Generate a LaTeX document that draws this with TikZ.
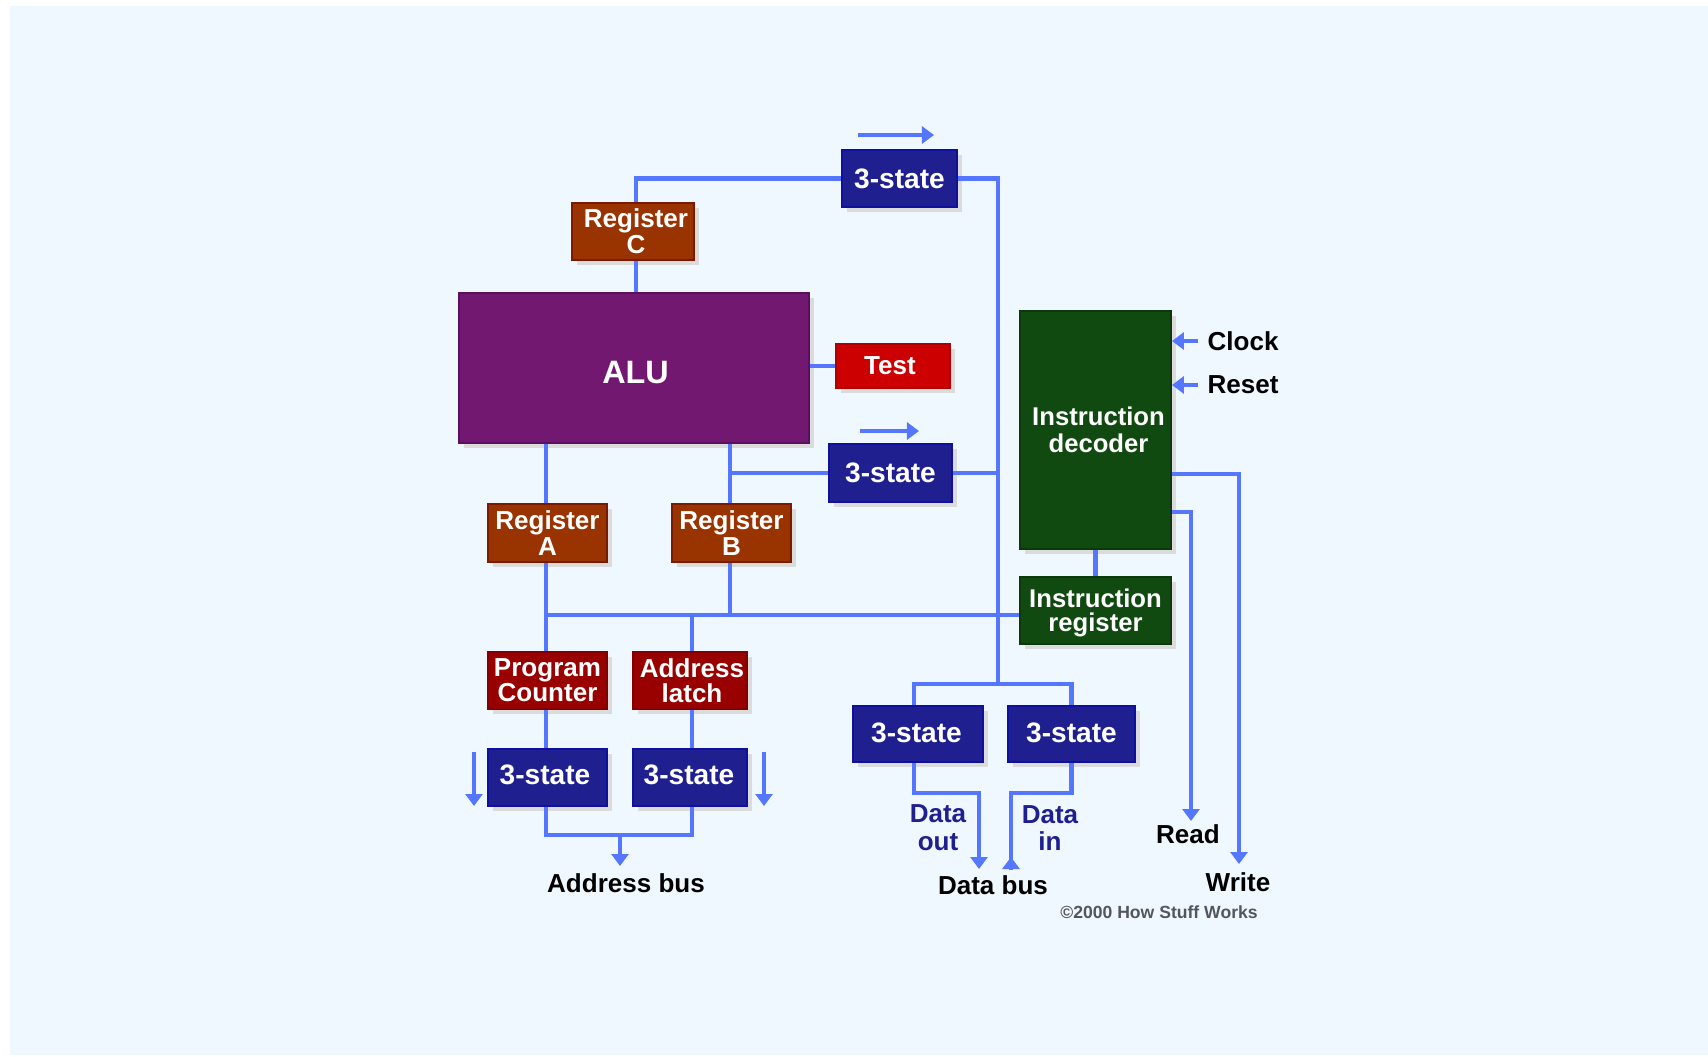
\documentclass[tikz,border=0pt]{standalone}
\usepackage{fontspec}
\setmainfont{Liberation Sans}
\usetikzlibrary{arrows.meta,shadows}
\definecolor{paper}{HTML}{F0F8FF}
\definecolor{wireblue}{HTML}{5577FF}
\definecolor{navy}{HTML}{1F1F8F}
\definecolor{navyline}{HTML}{1010A0}
\definecolor{rust}{HTML}{993300}
\definecolor{rustline}{HTML}{7A1A00}
\definecolor{maroon}{HTML}{990000}
\definecolor{testred}{HTML}{CC0000}
\definecolor{plum}{HTML}{731870}
\definecolor{plumline}{HTML}{5A1060}
\definecolor{leaf}{HTML}{114A11}
\definecolor{leafline}{HTML}{0C380C}
\definecolor{capgray}{HTML}{555560}
\tikzset{
  block/.style={rectangle, draw, line width=0.5pt, inner sep=0pt, align=center, text=white,
    font=\bfseries\fontsize{7.4pt}{7.5pt}\selectfont,
    drop shadow={shadow xshift=.05cm, shadow yshift=-.05cm, fill=black!14, opacity=1}},
  statebox/.style={block, fill=navy, draw=navyline, font=\bfseries\fontsize{8pt}{8pt}\selectfont},
  regbox/.style={block, fill=rust, draw=rustline},
  latchbox/.style={block, fill=maroon, draw=maroon!85!black, font=\bfseries\fontsize{7.4pt}{7.1pt}\selectfont},
  decbox/.style={block, fill=leaf, draw=leafline, font=\bfseries\fontsize{7.3pt}{7.6pt}\selectfont},
  tag/.style={font=\bfseries\fontsize{7.4pt}{7.9pt}\selectfont, align=center, text=black, inner sep=0pt},
  wire/.style={draw=wireblue, line width=1.4pt},
  flow/.style={wire, -{Triangle[width=.17cm,length=.12cm]}},
}
\begin{document}
\begin{tikzpicture}[x=0.01cm,y=-0.01cm]
  \useasboundingbox (0,0) rectangle (1708,1057);
  \fill[paper] (10,6) rectangle (1708,1055);

  % blocks, left part
  \node[block, fill=plum, draw=plumline, minimum width=3.50cm, minimum height=1.50cm, font=\bfseries\fontsize{9.2pt}{9.2pt}\selectfont] (alu) at (634,368) {\raisebox{-.045cm}[\height][\depth]{\hspace*{.03cm}ALU}};
  \node[regbox, minimum width=1.22cm, minimum height=.57cm] (regc) at (633,231.5) {\hspace*{.06cm}Register\\\hspace*{.06cm}C};
  \node[regbox, minimum width=1.19cm, minimum height=.58cm] (rega) at (547.5,533) {Register\\A};
  \node[regbox, minimum width=1.19cm, minimum height=.58cm] (regb) at (731.5,533) {Register\\B};
  \node[latchbox, minimum width=1.19cm, minimum height=.57cm] (pc) at (547.5,680.5) {Program\\Counter};
  \node[latchbox, minimum width=1.14cm, minimum height=.57cm] (latch) at (690,680.5) {\hspace*{.04cm}Address\\\hspace*{.04cm}latch};
  \node[block, fill=testred, draw=testred!85!black, minimum width=1.14cm, minimum height=.44cm] (test) at (893,366) {Test\hspace*{.06cm}};

  % blocks, 3-state
  \node[statebox, minimum width=1.15cm, minimum height=.57cm] (statetop) at (899.5,178.5) {3-state};
  \node[statebox, minimum width=1.23cm, minimum height=.58cm] (statemid) at (890.5,473) {3-state};
  \node[statebox, minimum width=1.19cm, minimum height=.57cm] (statepc) at (547.5,777.5) {\raisebox{.03cm}[\height][\depth]{3-state\hspace*{.05cm}}};
  \node[statebox, minimum width=1.14cm, minimum height=.57cm] (statelatch) at (690,777.5) {\raisebox{.03cm}[\height][\depth]{3-state\hspace*{.02cm}}};
  \node[statebox, minimum width=1.30cm, minimum height=.56cm] (stateout) at (918,734) {\raisebox{.01cm}[\height][\depth]{3-state\hspace*{.03cm}}};
  \node[statebox, minimum width=1.27cm, minimum height=.56cm] (statein) at (1071.5,734) {\raisebox{.01cm}[\height][\depth]{3-state}};

  % blocks, decoder
  \node[decbox, minimum width=1.51cm, minimum height=2.38cm] (decoder) at (1095.5,430) {\hspace*{.06cm}Instruction\\\hspace*{.06cm}decoder};
  \node[decbox, minimum width=1.51cm, minimum height=.67cm, font=\bfseries\fontsize{7.3pt}{6.8pt}\selectfont] (ireg) at (1095.5,610.5) {\rule{0pt}{6.7pt}Instruction\\register};

  % columns and junctions of the wires
  \coordinate (colc) at (636,231);
  \coordinate (cola) at (546,533);
  \coordinate (colb) at (730,533);
  \coordinate (coll) at (692,680);
  \coordinate (coldata) at (998,400);
  \coordinate (colout) at (914,734);
  \coordinate (busy) at (800,615);
  \coordinate (forky) at (800,684);
  \coordinate (joiny) at (800,835);
  \coordinate (outy) at (800,793);

  % wires
  \draw[wire] (statetop.west) -| (regc.north -| colc);
  \draw[wire] (regc.south -| colc) -- (alu.north -| colc);
  \draw[wire] (alu.east |- test.west) -- (test.west);
  \draw[wire] (alu.south -| cola) -- (rega.north -| cola);
  \draw[wire] (alu.south -| colb) -- (regb.north -| colb);
  \draw[wire] (statemid.west) -- (statemid.west -| colb);
  \draw[wire] (statemid.east) -- (statemid.east -| coldata);
  \draw[wire] (statetop.east) -| (forky -| coldata);
  \draw[wire] (stateout.north -| colout) |- (forky -| statein.north) -- (statein.north);
  \draw[wire] (rega.south -| cola) -- (pc.north -| cola);
  \draw[wire] (regb.south -| colb) -- (busy -| colb);
  \draw[wire, line width=1.2pt] (busy -| cola) -- (ireg.west |- busy);
  \draw[wire] (busy -| coll) -- (latch.north -| coll);
  \draw[wire] (pc.south -| cola) -- (statepc.north -| cola);
  \draw[wire] (latch.south -| coll) -- (statelatch.north -| coll);
  \draw[wire] (decoder.south) -- (ireg.north);

  % buses at the bottom
  \coordinate (addr) at (620,866);
  \coordinate (outend) at (979,869);
  \coordinate (inend) at (1011,857);
  \coordinate (inbase) at (1011,870);
  \coordinate (readend) at (1191,821);
  \coordinate (writeend) at (1239,864);
  \draw[wire] (statepc.south -| cola) |- (joiny -| coll) -- (statelatch.south -| coll);
  \draw[flow] (joiny -| addr) -- (addr);
  \draw[flow] (stateout.south -| colout) |- (outy -| outend) -- (outend);
  \draw[wire] (statein.south) |- (outy -| inend) -- (inbase);
  \draw[flow] (inbase) -- (inend);
  \draw[flow] (decoder.east |- 0,512) -| (readend);
  \draw[flow] (decoder.east |- 0,474) -| (writeend);

  % direction arrows
  \coordinate (topa) at (858,135);  \coordinate (topb) at (934,135);
  \coordinate (mida) at (860,431);  \coordinate (midb) at (919,431);
  \coordinate (lefta) at (474,752); \coordinate (leftb) at (474,806);
  \coordinate (righta) at (764,752); \coordinate (rightb) at (764,806);
  \draw[flow] (topa) -- (topb);
  \draw[flow] (mida) -- (midb);
  \draw[flow] (lefta) -- (leftb);
  \draw[flow] (righta) -- (rightb);

  % labels
  \node[tag, anchor=west] (clock) at (1207,341) {Clock};
  \node[tag, anchor=west] (reset) at (1207,385) {Reset};
  \draw[flow] ([xshift=-.09cm]clock.west) -- (decoder.east |- clock.west);
  \draw[flow] ([xshift=-.09cm]reset.west) -- (decoder.east |- reset.west);
  \node[tag] (read) at (1188,834) {Read};
  \node[tag] (write) at (1238,882) {Write};
  \node[tag] (databus) at (993,885) {Data bus};
  \node[tag] (addrbus) at (626,883) {Address bus};
  \node[tag, text=navy] (dataout) at (938,828) {Data\\out};
  \node[tag, text=navy] (datain) at (1050,828) {Data\\in};
  \node[font=\bfseries\fontsize{5pt}{5pt}\selectfont, text=capgray, inner sep=0pt] (copy) at (1159,912) {©2000 How Stuff Works};
\end{tikzpicture}
\end{document}
